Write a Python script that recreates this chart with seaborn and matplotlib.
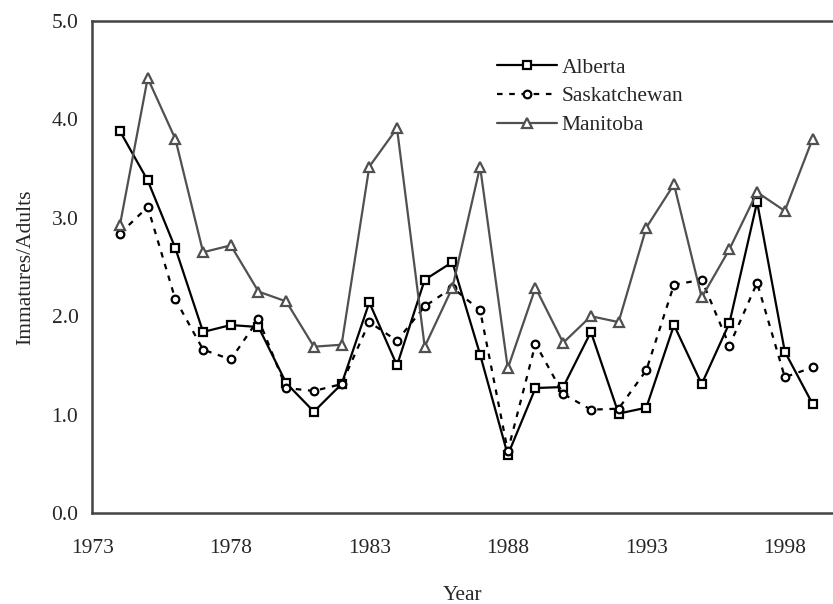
import seaborn as sns
import matplotlib.pyplot as plt
import pandas as pd
from matplotlib.ticker import MultipleLocator

years = list(range(1974, 2000))
alberta = [3.88, 3.38, 2.69, 1.84, 1.91, 1.89, 1.32, 1.03, 1.31, 2.14, 1.50, 2.37, 2.55,
           1.61, 0.59, 1.27, 1.28, 1.84, 1.01, 1.07, 1.91, 1.31, 1.93, 3.16, 1.64, 1.11]
saskatchewan = [2.84, 3.11, 2.17, 1.66, 1.56, 1.97, 1.27, 1.24, 1.31, 1.94, 1.75, 2.10, 2.29,
                2.06, 0.63, 1.72, 1.21, 1.05, 1.06, 1.45, 2.32, 2.37, 1.70, 2.34, 1.38, 1.48]
manitoba = [2.93, 4.42, 3.80, 2.65, 2.72, 2.25, 2.15, 1.69, 1.71, 3.52, 3.91, 1.69, 2.29,
            3.52, 1.47, 2.29, 1.73, 2.00, 1.94, 2.90, 3.34, 2.19, 2.68, 3.26, 3.07, 3.80]

df = pd.DataFrame({'Year': years, 'Alberta': alberta,
                   'Saskatchewan': saskatchewan, 'Manitoba': manitoba})

sns.set_style('white')
plt.rcParams['font.family'] = ['Liberation Serif', 'DejaVu Serif']

fig = plt.figure(figsize=(8.33, 6.04), dpi=100)
ax = fig.add_axes([0.1108, 0.1507, 0.8892, 0.8145])

spine_col = '#444444'
sns.lineplot(data=df, x='Year', y='Alberta', ax=ax, color='black', lw=1.6,
             marker='s', markersize=6, markerfacecolor='white', markeredgecolor='black',
             markeredgewidth=1.6, label='Alberta', errorbar=None)
sns.lineplot(data=df, x='Year', y='Saskatchewan', ax=ax, color='black', lw=1.6,
             linestyle=(0, (2.5, 3)), marker='o', markersize=5.5, markerfacecolor='white',
             markeredgecolor='black', markeredgewidth=1.6, label='Saskatchewan', errorbar=None)
sns.lineplot(data=df, x='Year', y='Manitoba', ax=ax, color='#505050', lw=1.6,
             marker='^', markersize=6.5, markerfacecolor='white', markeredgecolor='#505050',
             markeredgewidth=1.6, label='Manitoba', errorbar=None)

ax.set_xlim(1973, 1999.74)
ax.set_ylim(0, 5)
ax.set_xticks(range(1973, 2000, 5))
ax.set_yticks([0, 1, 2, 3, 4, 5])
ax.set_yticklabels([f'{v:.1f}' for v in [0, 1, 2, 3, 4, 5]])
ax.xaxis.set_minor_locator(MultipleLocator(1))
ax.yaxis.set_minor_locator(MultipleLocator(0.5))
ax.tick_params(axis='both', which='major', direction='inout', length=12, width=1.5,
               color=spine_col, labelsize=15.5, pad=4)
ax.tick_params(axis='both', which='minor', direction='out', length=5, width=1.5, color=spine_col)
ax.tick_params(axis='x', which='major', pad=13)

for s in ['left', 'bottom', 'top']:
    ax.spines[s].set_color(spine_col)
    ax.spines[s].set_linewidth(1.8)
ax.spines['right'].set_visible(False)

ax.set_xlabel('Year', fontsize=15.5, labelpad=20)
ax.set_ylabel('Immatures/Adults', fontsize=15.5, labelpad=12)

leg = ax.legend(loc='upper left', bbox_to_anchor=(0.52, 0.965), frameon=False,
                fontsize=15.5, handlelength=2.8, handletextpad=0.2, labelspacing=0.4)

fig.savefig('out.png', dpi=100)
